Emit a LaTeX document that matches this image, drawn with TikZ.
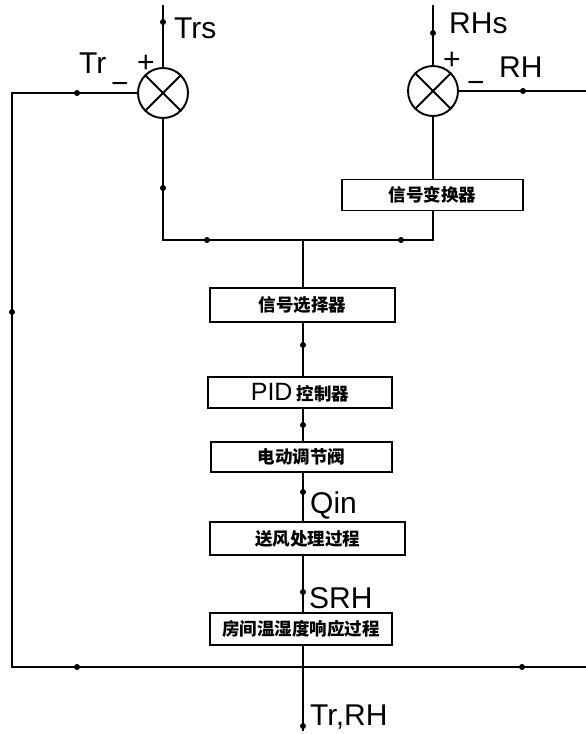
\documentclass[tikz,border=0pt]{standalone}
\usepackage{fontspec}
\setmainfont{Liberation Sans}
\newfontfamily\cjk{Noto Sans CJK SC}
\tikzset{
  ln/.style={line width=1.9pt},
  sumj/.style={circle,draw,line width=1.9pt,minimum size=50pt,inner sep=0pt},
  blk/.style={draw,line width=1.9pt,minimum height=31pt,inner sep=0pt,font=\cjk\bfseries\fontsize{17.5pt}{19pt}\selectfont},
  lbl/.style={inner sep=0pt,anchor=base west,font=\fontsize{30pt}{32pt}\selectfont},
  sgn/.style={inner sep=0pt,font=\fontsize{30pt}{32pt}\selectfont},
  dotm/.style={circle,fill,inner sep=0pt,minimum size=6pt}
}
\begin{document}
\begin{tikzpicture}[x=1pt,y=-1pt]
\useasboundingbox (0,0) rectangle (586,734);
% summing junctions
\node[sumj] (s1) at (163,93) {};
\node[sumj] (s2) at (433,91) {};
\foreach \s in {s1,s2}{
  \draw[ln] (\s.45) -- (\s.225);
  \draw[ln] (\s.135) -- (\s.315);
}
% blocks
\node[blk,minimum width=181pt] (conv) at (432.5,195) {信号变换器};
\node[blk,minimum width=185pt,minimum height=34pt] (sel) at (302.5,305) {信号选择器};
\node[blk,minimum width=184pt] (pid) at (300,392.5) {{\normalfont\fontsize{25pt}{26pt}\selectfont PID\,}控制器};
\node[blk,minimum width=181pt,minimum height=30pt] (valve) at (301.5,457) {电动调节阀};
\node[blk,minimum width=195pt,minimum height=33pt] (air) at (307.5,538.5) {送风处理过程};
\node[blk,minimum width=182pt,minimum height=32pt] (room) at (301,629) {房间温湿度响应过程};
% coordinates
\coordinate (trsin) at (163,5);
\coordinate (rhsin) at (433,5);
\coordinate (jn) at (303,240);
\coordinate (jl) at (163,240);
\coordinate (jr) at (433,240);
\coordinate (lt) at (12,93);
\coordinate (lb) at (12,667);
\coordinate (rb) at (590,667);
\coordinate (rt) at (590,91);
\coordinate (out) at (303,731);
% connectors
\draw[ln] (trsin) -- (s1.north);
\draw[ln] (rhsin) -- (s2.north);
\draw[ln] (s1.south) -- (jl) -- (jr) -- (conv.south -| jr);
\draw[ln] (s2.south) -- (conv.north -| s2);
\draw[ln] (jn) -- (sel.north -| jn);
\draw[ln] (sel.south -| jn) -- (pid.north -| jn);
\draw[ln] (pid.south -| jn) -- (valve.north -| jn);
\draw[ln] (valve.south -| jn) -- (air.north -| jn);
\draw[ln] (air.south -| jn) -- (room.north -| jn);
\draw[ln] (room.south -| jn) -- (out);
\draw[ln] (s1.west) -- (lt) -- (lb) -- (rb);
\draw[ln] (s2.east) -- (rt);
% flow marks
\foreach \p in {(163,22),(77,93),(12,312),(163,188),(207,240),(401,240),(433,33),(523,91),(303,345),(303,425),(303,492),(303,592),(77,667),(522,667),(303,726)}
  \node[dotm] at \p {};
% labels
\node[lbl] (ltrs) at (174,38) {Trs};
\node[lbl] (ltr) at (79,73) {Tr};
\node[sgn] (lm1) at (120,88) {−};
\node[sgn] (lp1) at (146,64) {+};
\node[lbl] (lrhs) at (449,33) {RHs};
\node[sgn] (lp2) at (452,61) {+};
\node[sgn] (lm2) at (476,87) {−};
\node[lbl] (lrh) at (499,77) {RH};
\node[lbl] (lqin) at (310,513) {Qin};
\node[lbl] (lsrh) at (309,608) {SRH};
\node[lbl] (lout) at (310,725) {Tr,RH};
\end{tikzpicture}
\end{document}
